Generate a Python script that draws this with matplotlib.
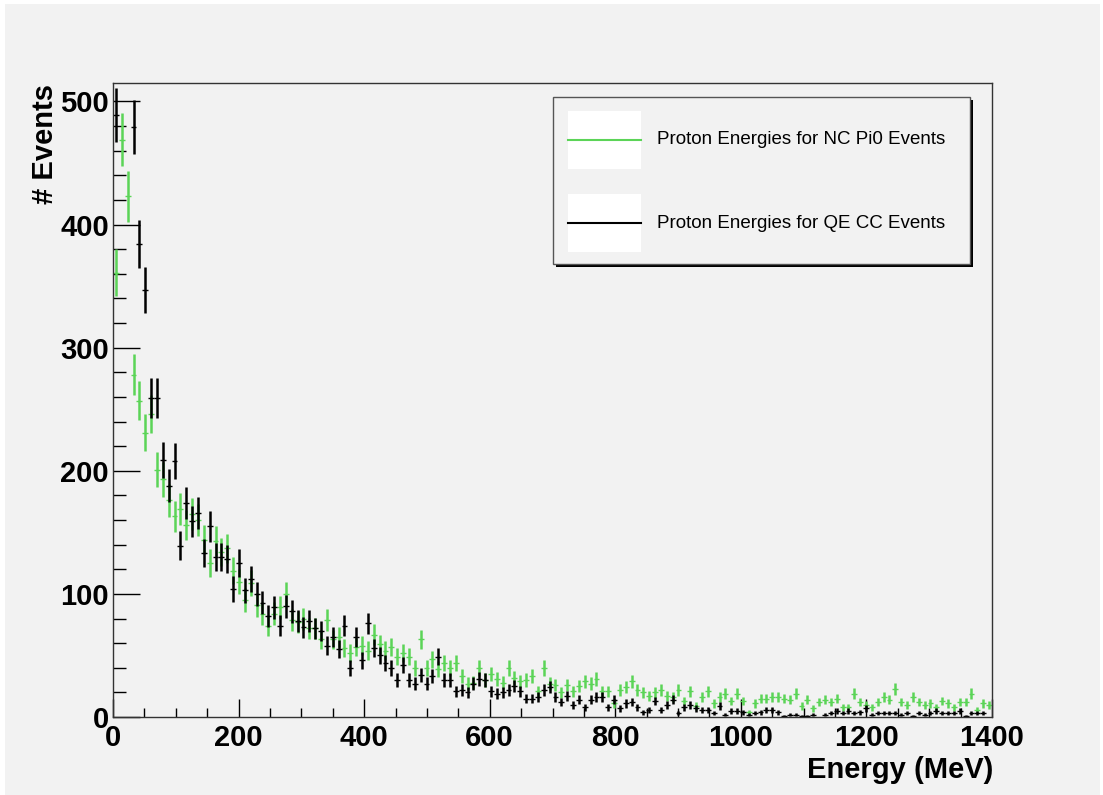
import numpy as np
import matplotlib
matplotlib.use('Agg')
import matplotlib.pyplot as plt
from matplotlib.patches import Rectangle
from matplotlib.lines import Line2D
from matplotlib.ticker import MultipleLocator

plt.rcParams['font.family'] = ['Liberation Sans', 'DejaVu Sans']

# ---------------- data ----------------
x_min, x_max, n_bins = 0, 1400, 150

# Proton energies for NC Pi0 events (green), counts per bin
nc_pi0 = [361, 469, 423, 278, 257, 231, 246, 201, 193, 176,
          163, 169, 156, 165, 160, 144, 125, 143, 134, 137,
          119, 110, 95, 109, 91, 84, 74, 84, 89, 100,
          79, 77, 80, 72, 72, 63, 79, 63, 65, 56,
          52, 57, 58, 54, 67, 59, 54, 57, 49, 52,
          49, 40, 63, 40, 47, 39, 44, 40, 44, 33,
          27, 28, 40, 30, 35, 31, 28, 40, 32, 29,
          30, 33, 21, 40, 27, 26, 20, 26, 21, 25,
          29, 27, 31, 21, 21, 11, 22, 24, 29, 22,
          20, 17, 20, 22, 17, 16, 22, 13, 21, 9,
          16, 21, 11, 16, 19, 13, 19, 13, 4, 11,
          15, 15, 16, 16, 15, 14, 19, 9, 14, 7,
          12, 14, 12, 15, 8, 8, 19, 12, 10, 8,
          12, 16, 14, 23, 12, 10, 16, 12, 10, 11,
          8, 13, 11, 8, 12, 12, 19, 6, 11, 10]

# Proton energies for QE CC events (black), counts per bin (0 = not drawn)
qe_cc = [489, 0, 0, 479, 384, 347, 259, 259, 209, 188,
         208, 139, 174, 159, 166, 133, 155, 130, 130, 128,
         104, 125, 103, 112, 100, 93, 82, 89, 74, 90,
         86, 78, 73, 78, 72, 70, 58, 65, 55, 74,
         40, 65, 46, 76, 56, 50, 44, 40, 30, 42,
         30, 27, 34, 27, 33, 49, 30, 30, 21, 22,
         20, 27, 31, 30, 21, 19, 20, 22, 25, 21,
         15, 15, 16, 22, 24, 16, 12, 17, 10, 14,
         8, 14, 16, 16, 8, 14, 7, 11, 12, 8,
         4, 6, 13, 6, 10, 14, 3, 8, 10, 7,
         6, 6, 3, 9, 2, 5, 5, 4, 2, 3,
         4, 6, 6, 4, 1, 2, 2, 1, 1, 2,
         0, 2, 3, 5, 3, 5, 3, 4, 7, 2,
         3, 3, 3, 3, 2, 3, 1, 3, 2, 3,
         5, 3, 3, 3, 5, 1, 3, 3, 3, 0]

x_ticks = [0, 200, 400, 600, 800, 1000, 1200, 1400]
y_ticks = [0, 100, 200, 300, 400, 500]
y_max = 515
legend_labels = ['Proton Energies for NC Pi0 Events',
                 'Proton Energies for QE CC Events']
x_label = 'Energy (MeV)'
y_label = '# Events'

green = '#5bd457'
bg = '#f2f2f2'

# ---------------- figure ----------------
W, H = 1103, 795
fig = plt.figure(figsize=(W / 100, H / 100), dpi=100, facecolor='white')


def fx(px):
    return px / W


def fy(py):
    return 1 - py / H


fig.patches.append(Rectangle((fx(5), 0), fx(1100) - fx(5), fy(4),
                             transform=fig.transFigure, facecolor=bg,
                             edgecolor='none', zorder=-10))

ax = fig.add_axes([fx(113), fy(717), fx(992) - fx(113), fy(83) - fy(717)])
ax.set_facecolor(bg)

edges = np.linspace(x_min, x_max, n_bins + 1)
centers = (edges[:-1] + edges[1:]) / 2
half = (edges[1] - edges[0]) / 2

for vals, color in [(nc_pi0, green), (qe_cc, 'black')]:
    v = np.asarray(vals, dtype=float)
    m = v > 0
    ax.errorbar(centers[m], v[m], yerr=np.sqrt(v[m]), fmt='none',
                ecolor=color, elinewidth=1.8, capsize=0)
    ax.errorbar(centers[m], v[m], xerr=half, fmt='none',
                ecolor=color, elinewidth=1.0, capsize=0)

ax.set_xlim(x_min, x_max)
ax.set_ylim(0, y_max)
ax.set_xticks(x_ticks)
ax.set_yticks(y_ticks)
ax.xaxis.set_minor_locator(MultipleLocator(50))
ax.yaxis.set_minor_locator(MultipleLocator(20))
ax.tick_params(axis='y', which='major', direction='in', length=19.5,
               width=1, labelsize=21, pad=3)
ax.tick_params(axis='y', which='minor', direction='in', length=9.5, width=1)
ax.tick_params(axis='x', which='major', direction='in', length=13,
               width=1, labelsize=21, pad=5)
ax.tick_params(axis='x', which='minor', direction='in', length=6.5, width=1)
for lab in ax.get_xticklabels() + ax.get_yticklabels():
    lab.set_fontweight('bold')
for s in ax.spines.values():
    s.set_linewidth(1.0)
    s.set_color('#333333')

fig.text(fx(993), fy(770), x_label, ha='right', va='center',
         fontsize=21, fontweight='bold')
fig.text(fx(45), fy(84), y_label, ha='center', va='top', rotation=90,
         fontsize=21, fontweight='bold')

# ---------------- legend ----------------
lx0, lx1, ly0, ly1 = 553, 970, 97, 264
fig.patches.append(Rectangle((fx(lx0 + 3), fy(ly1 + 3)), fx(lx1) - fx(lx0),
                             fy(ly0) - fy(ly1), transform=fig.transFigure,
                             facecolor='black', edgecolor='none', zorder=5))
fig.patches.append(Rectangle((fx(lx0), fy(ly1)), fx(lx1) - fx(lx0),
                             fy(ly0) - fy(ly1), transform=fig.transFigure,
                             facecolor=bg, edgecolor='#555555', lw=1.0,
                             zorder=6))
rows = [(110.7, 169, 140), (194, 252.3, 223.3)]
for (r0, r1, ry), label, color in zip(rows, legend_labels, [green, 'black']):
    fig.patches.append(Rectangle((fx(568), fy(r1)), fx(641) - fx(568),
                                 fy(r0) - fy(r1), transform=fig.transFigure,
                                 facecolor='white', edgecolor='none',
                                 zorder=7))
    fig.lines.append(Line2D([fx(568), fx(641)], [fy(ry), fy(ry)],
                            transform=fig.transFigure, color=color, lw=1.5,
                            zorder=8))
    fig.text(fx(657), fy(ry), label, ha='left', va='center', fontsize=13.5,
             zorder=9)

fig.savefig('out.png', dpi=100, facecolor=fig.get_facecolor())
